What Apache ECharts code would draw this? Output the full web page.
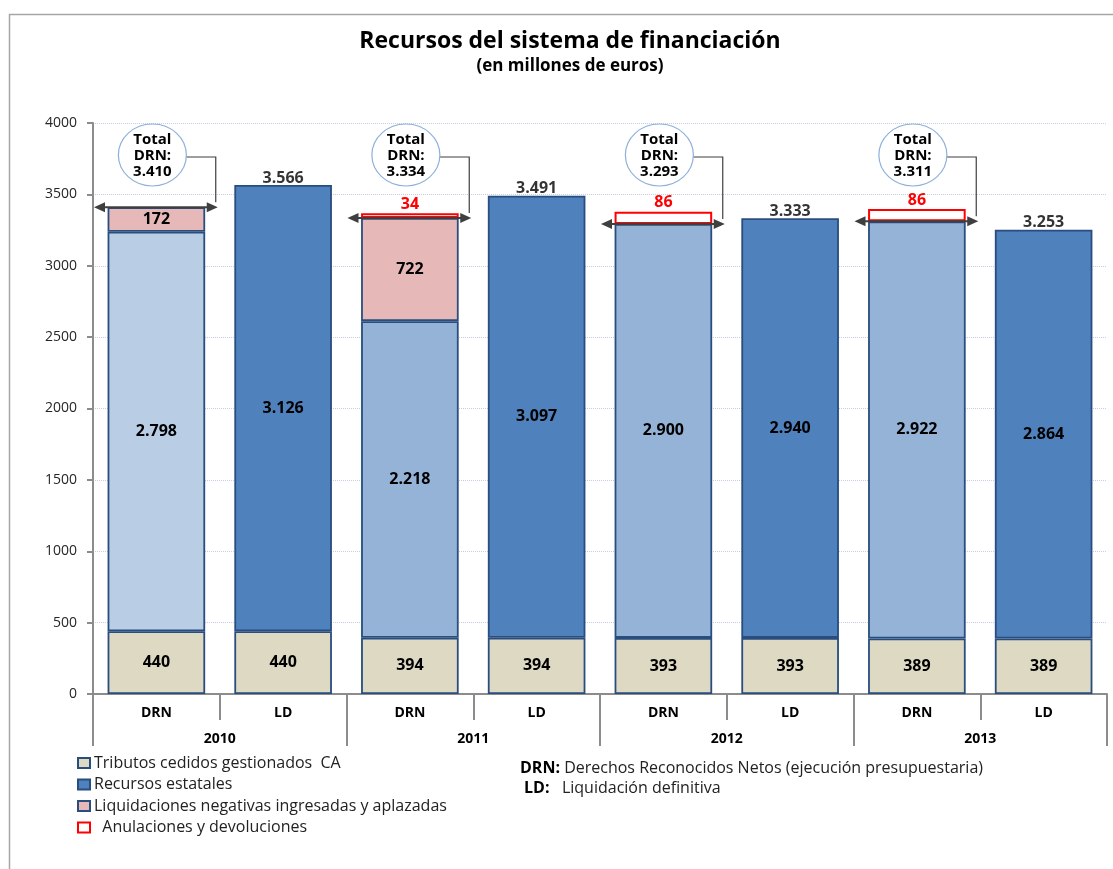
<!DOCTYPE html>
<html><head><meta charset="utf-8">
<script src="https://cdn.jsdelivr.net/npm/echarts@6/dist/echarts.min.js"></script>
<style>html,body{margin:0;padding:0;background:#fff}#c{width:1113px;height:869px}</style>
</head><body><div id="c"></div>
<script>
const categories = ['DRN','LD','DRN','LD','DRN','LD','DRN','LD'];
const years = ['2010','2011','2012','2013'];
const tributosCedidos = [440,440,394,394,393,393,389,389];
const recursosEstatales = [2798,3126,2218,3097,2900,2940,2922,2864];
const liquidacionesNegativas = [172,'-',722,'-','-','-','-','-'];
const anulaciones = ['-','-',34,'-',86,'-',86,'-'];
const ldTotals = ['-',3566,'-',3491,'-',3333,'-',3253];
const drnTotals = [3410,'-',3334,'-',3293,'-',3311,'-'];

const FONT = '"Open Sans", "DejaVu Sans", sans-serif';
function fmt(v){ return String(v).replace(/\B(?=(\d{3})+(?!\d))/g,'.'); }

const C_BEIGE = '#ddd9c3', C_LD = '#4f81bd', C_DRN = '#95b3d7', C_DRN10 = '#b9cde5', C_PINK = '#e6b9b8';
const BORDER = '#284d7e';
const AX = '#8c8c8c';

const recursosData = recursosEstatales.map((v,i)=>{
  const col = categories[i]==='LD' ? C_LD : (i===0 ? C_DRN10 : C_DRN);
  return {value:v, itemStyle:{color:col}};
});

const barLabel = {show:true, position:'inside', color:'#000', fontWeight:'bold', fontSize:16, fontFamily:FONT, formatter:p=>fmt(p.value)};
const bw = '77%';

const calloutData = drnTotals.map((v,i)=>[i,v]).filter(d=>d[1]!=='-');

const chart = echarts.init(document.getElementById('c'));
chart.setOption({
  animation:false,
  textStyle:{fontFamily:FONT},
  title:{
    text:'Recursos del sistema de financiación',
    subtext:'(en millones de euros)',
    left:565, top:25, textAlign:'center', itemGap:5,
    textStyle:{fontSize:23, fontWeight:'bold', color:'#000', fontFamily:FONT},
    subtextStyle:{fontSize:17, fontWeight:'bold', color:'#000', fontFamily:FONT}
  },
  legend:{
    orient:'vertical', left:77, top:755, padding:0, itemWidth:12, itemHeight:10, itemGap:5.5,
    icon:'rect',
    textStyle:{fontSize:16, color:'#222', fontFamily:FONT, padding:[0,0,0,-1]},
    formatter:n=> n.indexOf('Anul')===0 ? '  '+n : n,
    data:['Tributos cedidos gestionados  CA','Recursos estatales','Liquidaciones negativas ingresadas y aplazadas','Anulaciones y devoluciones']
  },
  graphic:[
    {type:'polyline', shape:{points:[[9.5,869],[9.5,14.5],[1113,14.5]]}, style:{stroke:'#a6a6a6', lineWidth:1.5, fill:null}},
    {type:'text', left:520, top:760, style:{text:'{b|DRN:} Derechos Reconocidos Netos (ejecución presupuestaria)', font:'16px '+FONT, fill:'#222', rich:{b:{fontWeight:'bold', fontSize:16, fontFamily:FONT, fill:'#000'}}}},
    {type:'text', left:524, top:780, style:{text:'{b|LD:}   Liquidación definitiva', font:'16px '+FONT, fill:'#222', rich:{b:{fontWeight:'bold', fontSize:16, fontFamily:FONT, fill:'#000'}}}}
  ],
  grid:{left:93, right:6, top:123, bottom:175, containLabel:false},
  xAxis:[
    {type:'category', data:categories, position:'bottom',
     axisLine:{lineStyle:{color:AX, width:2}},
     axisTick:{show:true, interval:0, length:26, lineStyle:{color:AX, width:2}},
     axisLabel:{interval:0, margin:12, fontWeight:'bold', fontSize:14, color:'#000', fontFamily:FONT}},
    {type:'category', data:years, position:'bottom', gridIndex:0,
     axisLine:{show:false},
     axisTick:{show:true, interval:0, length:52, lineStyle:{color:AX, width:2}},
     axisLabel:{interval:0, margin:38, fontWeight:'bold', fontSize:14, color:'#000', fontFamily:FONT}}
  ],
  yAxis:{type:'value', min:0, max:4000, interval:500,
    axisLine:{show:true, lineStyle:{color:AX, width:2}},
    axisTick:{show:true, length:6, lineStyle:{color:AX, width:2}},
    axisLabel:{margin:16, fontSize:14, color:'#262626', fontFamily:FONT, formatter:v=>String(v)},
    splitLine:{lineStyle:{type:'dotted', color:'#c5cde0', width:1}}
  },
  series:[
    {name:'Tributos cedidos gestionados  CA', type:'bar', stack:'a', barWidth:bw, data:tributosCedidos,
     itemStyle:{color:C_BEIGE, borderColor:BORDER, borderWidth:1.8}, label:barLabel},
    {name:'Recursos estatales', type:'bar', stack:'a', barWidth:bw, data:recursosData,
     itemStyle:{color:C_LD, borderColor:BORDER, borderWidth:1.8}, label:barLabel},
    {name:'Liquidaciones negativas ingresadas y aplazadas', type:'bar', stack:'a', barWidth:bw, data:liquidacionesNegativas,
     itemStyle:{color:C_PINK, borderColor:BORDER, borderWidth:1.8}, label:barLabel},
    {name:'Anulaciones y devoluciones', type:'bar', stack:'a', barWidth:bw, data:anulaciones,
     itemStyle:{color:'rgba(255,255,255,0)', borderColor:'#ff0000', borderWidth:2},
     label:{show:true, position:'top', distance:1, color:'#ff0000', fontWeight:'bold', fontSize:16, fontFamily:FONT}},
    {name:'ldTotal', type:'scatter', data:ldTotals, symbolSize:0, silent:true, z:6,
     label:{show:true, position:'top', distance:-1, color:'#000', fontWeight:'bold', fontSize:16, fontFamily:FONT, formatter:p=>fmt(p.value)}},
    {name:'callout', type:'custom', data:calloutData, z:10, clip:false, silent:true,
     renderItem:function(params, api){
       const idx = api.value(0), v = api.value(1);
       const p = api.coord([idx, v]);
       const w = api.size([1,0])[0];
       const left = p[0]-w/2+1, right = p[0]+w/2-2;
       const y = p[1];
       const ex = p[0]-4, ey = params.coordSys.y + 32;
       const rx = 34, ry = 31, ah = 11, aw = 5;
       const col = '#3f3f3f';
       return {type:'group', children:[
         {type:'line', shape:{x1:left+ah-1, y1:y, x2:right-ah+1, y2:y}, style:{stroke:col, lineWidth:2}},
         {type:'polygon', shape:{points:[[left,y],[left+ah,y-aw],[left+ah,y+aw]]}, style:{fill:col}},
         {type:'polygon', shape:{points:[[right,y],[right-ah,y-aw],[right-ah,y+aw]]}, style:{fill:col}},
         {type:'polyline', shape:{points:[[ex+rx-1, ey+2],[right-2, ey+2],[right-2, y-aw]]}, style:{stroke:col, lineWidth:1.2, fill:null}},
         {type:'ellipse', shape:{cx:ex, cy:ey, rx:rx, ry:ry}, style:{fill:'#fff', stroke:'#8db0da', lineWidth:1.2}},
         {type:'text', x:ex, y:ey+1, style:{text:'Total\nDRN:\n'+fmt(v), fill:'#000', fontWeight:'bold', fontSize:15, fontFamily:FONT, align:'center', verticalAlign:'middle', lineHeight:16}}
       ]};
     }}
  ]
});
</script>
</body></html>
